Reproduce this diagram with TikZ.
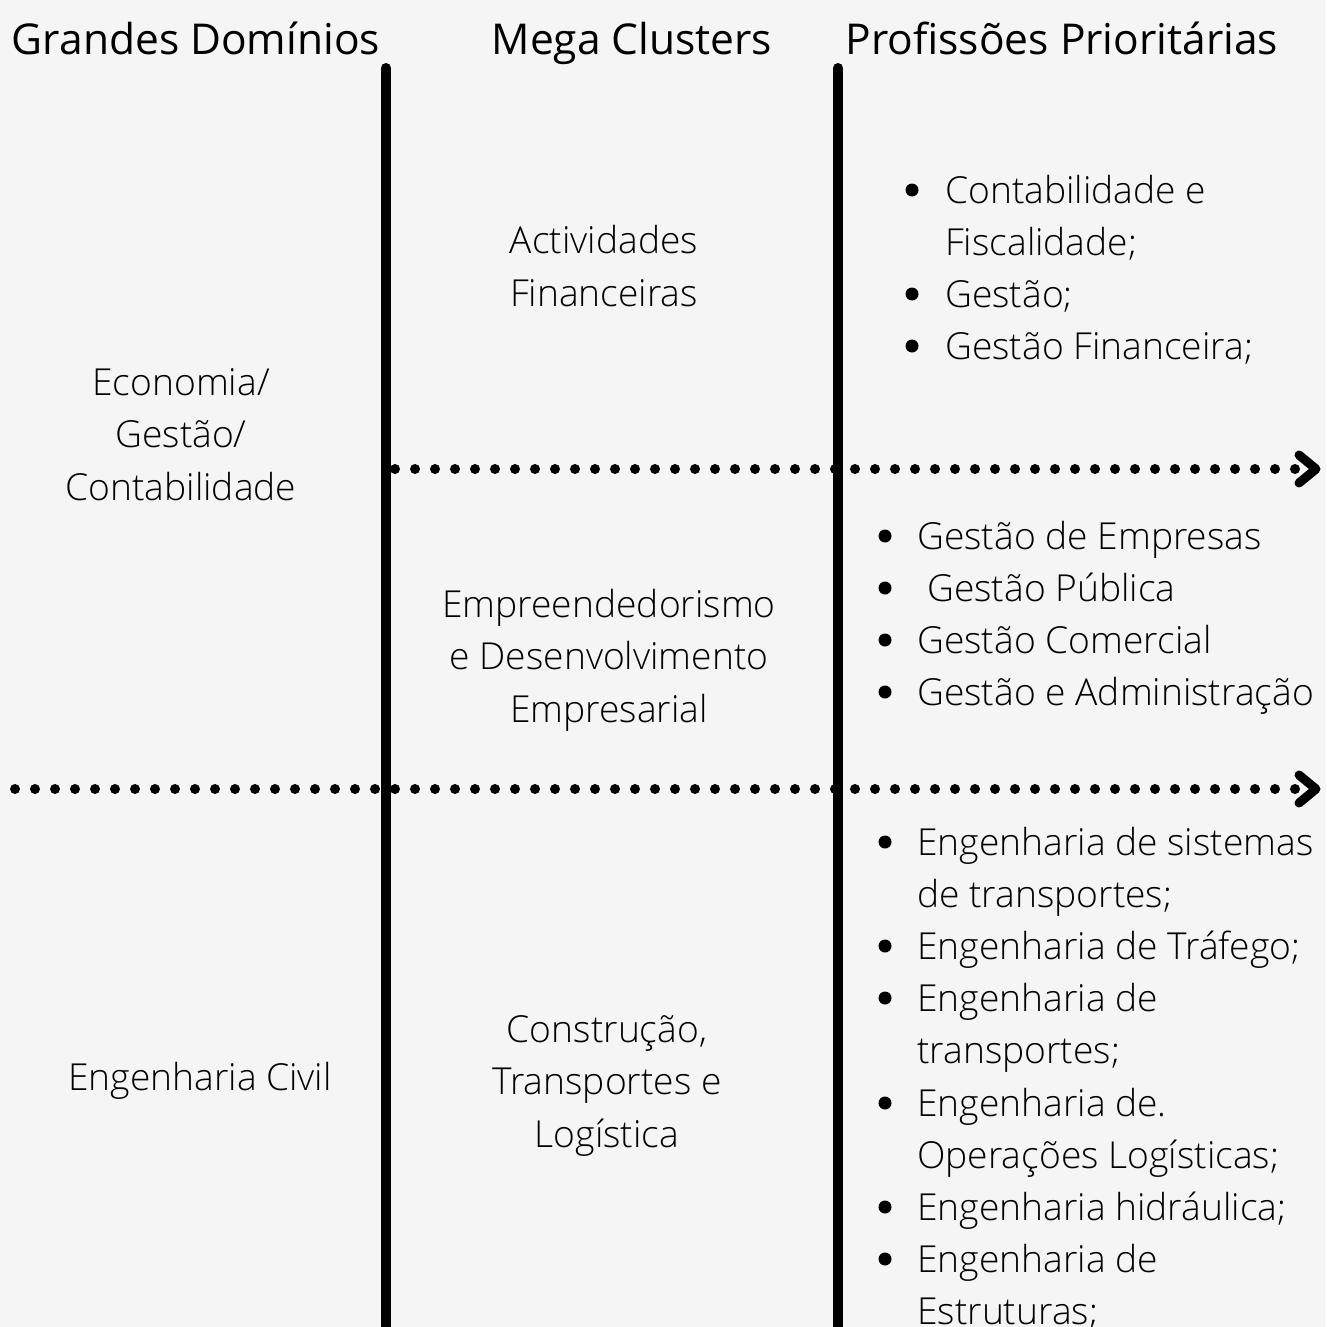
\documentclass[tikz,border=0pt]{standalone}
\usepackage{fontspec}
\setmainfont{Open Sans}
\newfontfamily\lightfont{Open Sans Light}
\definecolor{bg}{HTML}{F5F5F5}
\definecolor{txt}{HTML}{000000}
\begin{document}
\begin{tikzpicture}[x=1pt,y=-1pt,
  head/.style={font=\fontsize{42.5}{50}\selectfont, text=black, inner sep=0pt, anchor=base},
  body/.style={font=\lightfont\fontsize{37.2}{52.3}\selectfont, text=txt, inner sep=0pt, align=center, anchor=base},
  item/.style={font=\lightfont\fontsize{37.2}{52.3}\selectfont, text=txt, inner sep=0pt, anchor=base west},
  bullet/.style={circle, fill=black, inner sep=0pt, minimum size=13pt},
  vline/.style={line width=10pt, line cap=round},
  dotline/.style={line width=10pt, line cap=round, dash pattern=on 0pt off 20pt},
  chev/.style={line width=9pt, line cap=round, line join=round}]
\fill[bg] (0,0) rectangle (1326,1327);
\useasboundingbox (0,0) rectangle (1326,1327);
% headers
\node[head] (h1) at (196,55) {Grandes Domínios};
\node[head] (h2) at (632,55) {Mega Clusters};
\node[head] (h3) at (1062,55) {Profissões Prioritárias};
% vertical lines
\coordinate (v1t) at (386,68); \coordinate (v1b) at (386,1340);
\coordinate (v2t) at (838,68); \coordinate (v2b) at (838,1340);
\draw[vline] (v1t) -- (v1b);
\draw[vline] (v2t) -- (v2b);
% dotted separators
\coordinate (d1s) at (395,469); \coordinate (d1e) at (1296,469);
\coordinate (d2s) at (15,789); \coordinate (d2e) at (1296,789);
\draw[dotline] (d1s) -- (d1e);
\draw[dotline] (d2s) -- (d2e);
\coordinate (c1a) at (1299,455); \coordinate (c1b) at (1316,469); \coordinate (c1c) at (1299,483);
\coordinate (c2a) at (1299,775); \coordinate (c2b) at (1316,789); \coordinate (c2c) at (1299,803);
\draw[chev] (c1a) -- (c1b) -- (c1c);
\draw[chev] (c2a) -- (c2b) -- (c2c);
% domains (anchor = baseline of last line)
\node[body] (dom1) at (181,500) {Economia/\\Gestão/\\Contabilidade};
\node[body] (dom2) at (200,1090) {Engenharia Civil};
% clusters
\node[body] (cl1) at (604,306) {Actividades\\Financeiras};
\node[body] (cl2) at (609,722) {Empreendedorismo\\e Desenvolvimento\\Empresarial};
\node[body] (cl3) at (607,1147) {Construção,\\Transportes e\\Logística};
% list 1
\node[bullet] (b11) at (912,190) {};
\node[item] (t11) at (945,203) {Contabilidade e};
\node[item] (t12) at (945,255) {Fiscalidade;};
\node[bullet] (b12) at (912,294) {};
\node[item] (t13) at (945,307) {Gestão;};
\node[bullet] (b13) at (912,346) {};
\node[item] (t14) at (945,359) {Gestão Financeira;};
% list 2
\node[bullet] (b21) at (885,536) {};
\node[item] (t21) at (917,549) {Gestão de Empresas};
\node[bullet] (b22) at (885,588) {};
\node[item] (t22) at (927,601) {Gestão Pública};
\node[bullet] (b23) at (885,640) {};
\node[item] (t23) at (917,653) {Gestão Comercial};
\node[bullet] (b24) at (885,692) {};
\node[item] (t24) at (917,705) {Gestão e Administração};
% list 3
\node[bullet] (b31) at (885,842) {};
\node[item] (t31) at (917,855) {Engenharia de sistemas};
\node[item] (t32) at (917,907) {de transportes;};
\node[bullet] (b32) at (885,946) {};
\node[item] (t33) at (917,959) {Engenharia de Tráfego;};
\node[bullet] (b33) at (885,998) {};
\node[item] (t34) at (917,1011) {Engenharia de};
\node[item] (t35) at (917,1063) {transportes;};
\node[bullet] (b34) at (885,1103) {};
\node[item] (t36) at (917,1116) {Engenharia de.};
\node[item] (t37) at (917,1168) {Operações Logísticas;};
\node[bullet] (b35) at (885,1207) {};
\node[item] (t38) at (917,1220) {Engenharia hidráulica;};
\node[bullet] (b36) at (885,1259) {};
\node[item] (t39) at (917,1272) {Engenharia de};
\node[item] (t310) at (917,1324) {Estruturas;};
\end{tikzpicture}
\end{document}
